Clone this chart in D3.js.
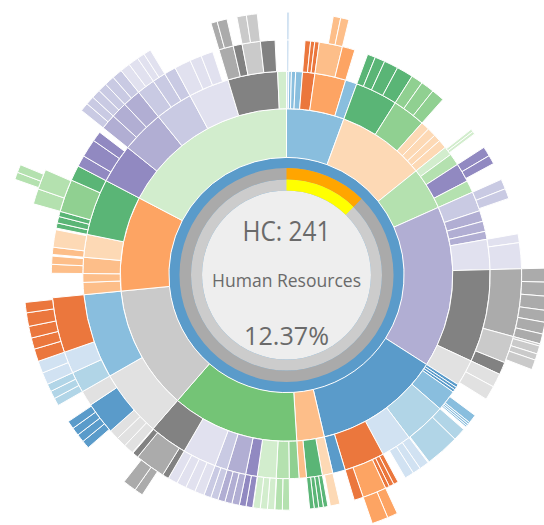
<!DOCTYPE html>
<html><head><meta charset="utf-8">
<script src="https://cdn.jsdelivr.net/npm/d3@7"></script>
<style>html,body{margin:0;padding:0;background:#fff;}svg{display:block;}</style>
</head><body>
<svg id="chart" width="544" height="525"></svg>
<script>
// ---- palette (category20c) ----
const paletteKeys = ["b1","b2","b3","b4","o1","o2","o3","o4","g1","g2","g3","g4","p1","p2","p3","p4","k1","k2","k3","k4"];
const paletteColors = ["#3182bd","#6baed6","#9ecae1","#c6dbef","#e6550d","#fd8d3c","#fdae6b","#fdd0a2","#31a354","#74c476","#a1d99b","#c7e9c0","#756bb1","#9e9ac8","#bcbddc","#dadaeb","#636363","#969696","#bdbdbd","#d9d9d9"];

// ---- data: node = [colorGroup, ownHeadcount, children]; null group = empty space ----
const departments = ["Dept 1","Dept 2","Dept 3","Dept 4","Dept 5","Dept 6","Human Resources","Dept 8","Dept 9","Dept 10"];
const deptGroups  = ["b2","o4","g3","p2","b1","o3","g2","k3","o2","g4"];
const highlighted = "Human Resources";
const centerTexts = ["HC: 241","Human Resources","12.37%"];
const centerShare = 0.1237;

const dept1 = [["b4",0,[["b4",0,[["b4",3.5]]]]],["b2",4],["b2",6.5],["b2",10.5],
  ["o1",0,[["o1",7.5],["o1",5.5],["o1",6]]],
  ["o2",0,[["o3",0,[[null,12],["o3",9],["o3",10]]],["o2",17]]],
  ["b2",17.8]];
const dept2 = [["g1",0,[["g1",10.8],["g1",13.5],["g1",19],["g1",22.2]]],
  ["g2",0,[["g2",15.7],["g2",17.9],["g2",17.4]]],
  ["o4",13.5],["o4",13.5],["o4",11],["o4",13.5]];
const dept3 = [["g4",3.2,[[null,2.7],["g4",3.8],["g4",3.8]]],["g3",18.4],
  ["p1",4.3,[["p1",13],["p1",11.9]]],["g3",18.9]];
const dept4 = [["p3",3.3,[["p3",13.5],["p3",13.5]]],["p2",16.8],["p2",15.7],["p2",12.4],
  ["p4",0,[["p4",11.9],["p4",34.6]]],
  ["k1",0,[["k2",0,[["k2",16.8],["k2",16.8],["k2",16.8],["k2",14.1],["k2",14.1],["k2",11.9]]],
           ["k3",4.3,[["k3",2.7],["k3",9.7],["k3",7.6],["k3",11.9]]],
           ["k1",16.8]]],
  ["k4",3.8,[["k4",18.4],["k4",18.9]]]];
const dept5 = [["b1",4.9],["b1",4.3],["b1",4.3],
  ["b2",4.3,[[null,8.7],["b2",11.9],["b2",2.7],["b2",2.7],["b2",2.2]]],
  ["b3",1.7,[["b3",17.3],["b3",45.4]]],
  ["b4",10.9,[["b4",13],["b4",10.8],["b4",12.4]]],
  ["o1",0,[["o1",6.5],["o1",6.5],["o1",5.4],["o2",0,[["o2",12.4],["o2",19.5]]],["o1",12.4]]],
  ["b1",19.5]];
const dept6 = [["o4",3.2,[["o4",13]]],["g1",0,[["g1",6.1],["g1",6.1],["g1",6.1],["g1",6.1]]],["o3",11.4]];
const dept7 = [["g2",15],["g3",0.6,[["g3",9.7],["g3",9.7]]],["g4",0.5,[["g4",9.5],["g4",9.5],["g4",9.5]]],
  ["p1",0,[["p1",9],["p1",9]]],["p2",0,[["p2",10],["p2",9.5],["p2",9.5]]],["p3",0,[["p3",10],["p3",9.5]]],
  ["p4",0,[["p4",13],["p4",13],["p4",13],["p4",13]]],
  ["k1",1.1,[["k1",8.7],["k2",6,[[null,8.1],["k2",10.3],["k2",16.2]]],["k1",8.1]]]];
const dept8 = [["k4",0,[["k4",13.5],["k4",13.5],["k4",13.5],
     ["b1",1.8,[[null,2.7],["b1",9.7],["b1",9.7],["b1",9.7],["b1",9.7]]],["k4",20.6]]],
  ["b2",0,[["b3",0,[["b3",9.4],["b3",9.4],["b3",9.3]]],["b4",0,[["b4",14.6],["b4",14.6]]],
     ["o1",2.3,[["o1",15.1],["o1",13.5],["o1",14.1],["o1",16.2],["o1",12.4]]]]]];
const dept9 = [["o3",18.9],["o3",13.5],["o3",2.2,[["o3",11.9],["o3",10.8]]],["o4",2.2,[["o3",9.7],["o4",23.3]]],
  ["g1",0,[["g1",7],["g1",8.7],["g1",7],
     ["g2",1.1,[["g3",18.4],["g3",5.9,[[null,1.6],["g3",8.1],["g3",8.7]]]]],["g1",20.6]]]];
const dept10 = [["p1",7.4,[["p1",15.1],["p1",24.3],["p1",13.5]]],
  ["p2",0,[["p2",0,[["p3",10.3],["p3",10.3]]],["p2",0,[["p3",10.8],["p3",10.8]]],["p2",0,[["p3",12],["p3",12.3]]]]],
  ["p3",0,[["p3",0,[["p4",12],["p4",12.3]]],["p3",0,[["p4",9],["p4",8.9]]],["p3",15.7]]],
  ["p4",8.6,[["p4",22.2],["p4",15.7],["p4",16.2]]],
  ["k1",1.6,[["k2",0,[["k2",7.6],["k2",11.9]]],["k1",11.9],["k3",0,[["k3",11.4],["k3",13]]],["k1",19.5]]],
  ["g4",13.5]];
const deptChildren = [dept1,dept2,dept3,dept4,dept5,dept6,dept7,dept8,dept9,dept10];

// ---- layout ----
const cx = 286.5, cy = 275, R = 288;
const color = d3.scaleOrdinal().domain(paletteKeys).range(paletteColors);
function build(n){ return {c:n[0], v:n[1], children: n[2] ? n[2].map(build) : undefined}; }
const rootData = {name:"root", c:"b1", v:0,
  children: departments.map((name,i)=>({name, c:deptGroups[i], v:0, children: deptChildren[i].map(build)}))};
const root = d3.partition().size([2*Math.PI, R*R])(d3.hierarchy(rootData).sum(d=>d.v||0));

const arc = d3.arc().startAngle(d=>d.x0).endAngle(d=>d.x1)
  .innerRadius(d=>Math.sqrt(d.y0)).outerRadius(d=>Math.sqrt(d.y1));

const svg = d3.select("#chart");
const g = svg.append("g").attr("transform",`translate(${cx},${cy})`);
g.selectAll("path.node").data(root.descendants().filter(d=>d.data.c)).join("path")
  .attr("class","node").attr("d",arc)
  .attr("fill",d=>color(d.data.c))
  .attr("fill-opacity",d=>d.data.name===highlighted?1:0.8)
  .attr("stroke","#fff").attr("stroke-width",d=>d.depth===0?0:1);

// ---- centre ----
const ring = d3.arc();
const rIn = 84.5, rMid = 95.5, rOut = 107;
g.append("path").attr("d",ring({innerRadius:rMid,outerRadius:rOut,startAngle:0,endAngle:2*Math.PI})).attr("fill","#aaaaaa");
g.append("path").attr("d",ring({innerRadius:rIn,outerRadius:rMid,startAngle:0,endAngle:2*Math.PI})).attr("fill","#cccccc");
g.append("circle").attr("r",rIn).attr("fill","#eeeeee");
g.append("path").attr("d",ring({innerRadius:rMid,outerRadius:rOut,startAngle:0,endAngle:2*Math.PI*centerShare})).attr("fill","orange");
g.append("path").attr("d",ring({innerRadius:rIn,outerRadius:rMid,startAngle:0,endAngle:2*Math.PI*centerShare})).attr("fill","yellow");

const tx = [{t:centerTexts[0],y:-34,s:27,w:88},{t:centerTexts[1],y:12,s:18,w:149},{t:centerTexts[2],y:70,s:26,w:85}];
g.selectAll("text.lbl").data(tx).join("text").attr("class","lbl")
  .attr("x",0).attr("y",d=>d.y).attr("text-anchor","middle")
  .attr("font-family","'Open Sans', 'Noto Sans', sans-serif").attr("font-size",d=>d.s)
  .attr("textLength",d=>d.w).attr("lengthAdjust","spacingAndGlyphs")
  .attr("fill","#6a6a6a").text(d=>d.t);
</script>
</body></html>
